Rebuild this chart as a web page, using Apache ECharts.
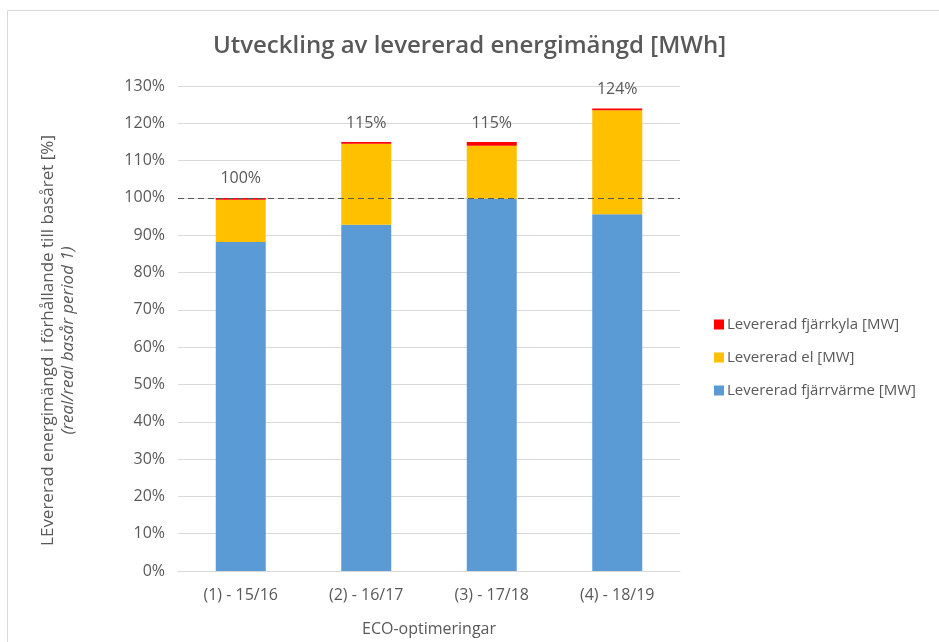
<!DOCTYPE html>
<html>
<head>
<meta charset="utf-8">
<script src="https://cdn.jsdelivr.net/npm/echarts@6/dist/echarts.min.js"></script>
<style>
  html, body { margin: 0; padding: 0; background: #fff; }
  #chart { width: 939px; height: 642px; }
</style>
</head>
<body>
<div id="chart"></div>
<script>
// Delivered energy per period, as % of the base year (period 1)
const categories = ['(1) - 15/16', '(2) - 16/17', '(3) - 17/18', '(4) - 18/19'];
const fjarrvarme = [88.2, 92.8, 99.8, 95.6];   // district heating
const el = [11.3, 21.7, 14.2, 27.9];           // electricity
const fjarrkyla = [0.5, 0.5, 1.0, 0.5];        // district cooling
const baseLine = 100;

const totals = categories.map((_, i) => fjarrvarme[i] + el[i] + fjarrkyla[i]);

const textColor = '#595959';
const font = '"Open Sans", sans-serif';

const chart = echarts.init(document.getElementById('chart'));
chart.setOption({
  backgroundColor: '#ffffff',
  animation: false,
  textStyle: { fontFamily: font, color: textColor },
  graphic: [{
    type: 'rect',
    shape: { x: 7.5, y: 10.5, width: 940, height: 640 },
    style: { fill: 'none', stroke: '#d9d9d9', lineWidth: 1 },
    silent: true
  }],
  title: {
    text: 'Utveckling av levererad energimängd [MWh]',
    left: 'center',
    top: 29,
    textStyle: { fontFamily: font, fontSize: 24, fontWeight: 600, color: textColor }
  },
  legend: {
    orient: 'vertical',
    left: 709,
    top: 312,
    itemGap: 18,
    itemWidth: 10,
    itemHeight: 10,
    icon: 'rect',
    data: ['Levererad fjärrkyla [MW]', 'Levererad el [MW]', 'Levererad fjärrvärme [MW]'],
    textStyle: { fontFamily: font, fontSize: 15, color: textColor, padding: [0, 0, 0, -2] }
  },
  grid: { left: 178, right: 259, top: 86, bottom: 69 },
  xAxis: {
    type: 'category',
    data: categories,
    name: 'ECO-optimeringar',
    nameLocation: 'middle',
    nameGap: 50,
    nameTextStyle: { fontFamily: font, fontSize: 16, color: textColor },
    axisLine: { lineStyle: { color: '#d9d9d9' } },
    axisTick: { show: false },
    axisLabel: { fontFamily: font, fontSize: 16, color: textColor, margin: 16 }
  },
  yAxis: {
    type: 'value',
    min: 0,
    max: 130,
    interval: 10,
    name: '{a|LEvererad energimängd i förhållande till basåret [%]}\n{b|(real/real basår period 1)}',
    nameLocation: 'middle',
    nameRotate: 90,
    nameGap: 100,
    nameTextStyle: {
      padding: [0, 24, 0, 0],
      rich: {
        a: { fontFamily: font, fontSize: 17, color: textColor, lineHeight: 20 },
        b: { fontFamily: font, fontSize: 17, fontStyle: 'italic', color: textColor, lineHeight: 20 }
      }
    },
    axisLine: { show: false },
    axisTick: { show: false },
    axisLabel: { formatter: '{value}%', fontFamily: font, fontSize: 16, color: textColor, margin: 13 },
    splitLine: { lineStyle: { color: '#d9d9d9' } }
  },
  series: [
    {
      name: 'Levererad fjärrvärme [MW]',
      type: 'bar',
      stack: 'total',
      barWidth: 50,
      itemStyle: { color: '#5b9bd5' },
      data: fjarrvarme
    },
    {
      name: 'Levererad el [MW]',
      type: 'bar',
      stack: 'total',
      barWidth: 50,
      itemStyle: { color: '#ffc000' },
      data: el
    },
    {
      name: 'Levererad fjärrkyla [MW]',
      type: 'bar',
      stack: 'total',
      barWidth: 50,
      itemStyle: { color: '#ff0000' },
      data: fjarrkyla,
      label: {
        show: true,
        position: 'top',
        distance: 11,
        fontFamily: font,
        fontSize: 16,
        color: textColor,
        formatter: p => Math.round(totals[p.dataIndex]) + '%'
      },
      markLine: {
        silent: true,
        symbol: 'none',
        label: { show: false },
        lineStyle: { color: '#595959', type: [6, 4], width: 1 },
        data: [{ yAxis: baseLine }]
      }
    }
  ]
});
</script>
</body>
</html>
